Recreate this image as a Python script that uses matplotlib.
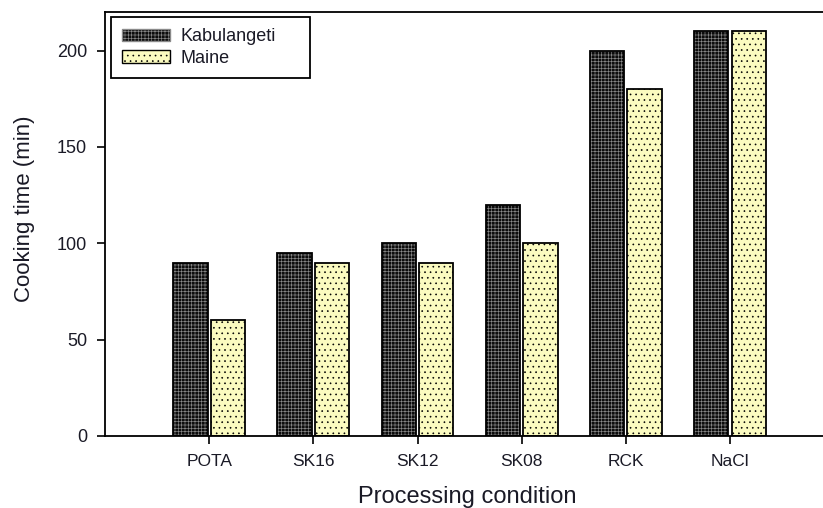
import numpy as np
import matplotlib
matplotlib.use("Agg")
import matplotlib.pyplot as plt
from matplotlib.patches import Patch

plt.rcParams["font.family"] = ["Liberation Sans", "DejaVu Sans"]
plt.rcParams["hatch.linewidth"] = 0.45

# ---- Data -------------------------------------------------------------------
conditions  = ["POTA", "SK16", "SK12", "SK08", "RCK", "NaCl"]
kabulangeti = [90, 95, 100, 120, 200, 210]
maine       = [60, 90, 90, 100, 180, 210]

DARK_FACE  = "#0c0c0c"
DARK_HATCH = "#8a8a8a"
LIGHT_FACE = "#fbfbc0"
TXT        = "#1a1a26"
W, OFF     = 0.33, 0.18

W_PX, H_PX = 823, 508
fig = plt.figure(figsize=(W_PX / 100, H_PX / 100), dpi=100)
ax = fig.add_axes([105 / W_PX, 72 / H_PX, 725 / W_PX, 424 / H_PX])

x = np.arange(len(conditions))

# dark series: black fill with a fine light grid
ax.bar(x - OFF, kabulangeti, W, color=DARK_FACE, edgecolor=DARK_HATCH,
       hatch="+++++", linewidth=0, zorder=2)
ax.bar(x - OFF, kabulangeti, W, fill=False, edgecolor="black",
       linewidth=1.3, zorder=3)
# light series: pale yellow with black dots
ax.bar(x + OFF, maine, W, color=LIGHT_FACE, edgecolor="black",
       hatch="...", linewidth=0, zorder=2)
ax.bar(x + OFF, maine, W, fill=False, edgecolor="black",
       linewidth=1.3, zorder=3)

ax.set_xlim(-1.0, 5.96)
ax.set_ylim(0, 220)
ax.set_yticks([0, 50, 100, 150, 200])
ax.set_xticks(x)
ax.set_xticklabels(conditions)
ax.tick_params(direction="out", length=6, width=1.2, colors="black",
               labelcolor=TXT)
ax.tick_params(axis="y", labelsize=13, pad=7)
ax.tick_params(axis="x", labelsize=12.5, pad=7)
for sp in ax.spines.values():
    sp.set_linewidth(1.3)
ax.spines["right"].set_visible(False)

ax.set_ylabel("Cooking time (min)", fontsize=16, color=TXT)
ax.yaxis.set_label_coords(-0.097, 0.535)
ax.set_xlabel("Processing condition", fontsize=17, labelpad=12, color=TXT)

handles = [
    Patch(facecolor=DARK_FACE, edgecolor=DARK_HATCH, hatch="+++++",
          label="Kabulangeti"),
    Patch(facecolor=LIGHT_FACE, edgecolor="black", hatch="...",
          label="Maine"),
]
leg = ax.legend(handles=handles, loc="upper left", mode="expand",
                bbox_to_anchor=(0.0083, 0.5, 0.2745, 0.488),
                borderaxespad=0, fontsize=13, frameon=True, fancybox=False,
                framealpha=1, edgecolor="black", handlelength=2.65,
                handleheight=0.7, borderpad=0.62, labelspacing=0.25,
                handletextpad=0.6)
leg.get_frame().set_linewidth(1.3)
for p in leg.get_patches():
    p.set_linewidth(1.0)
for t in leg.get_texts():
    t.set_color(TXT)

fig.savefig("out.png", dpi=100)
